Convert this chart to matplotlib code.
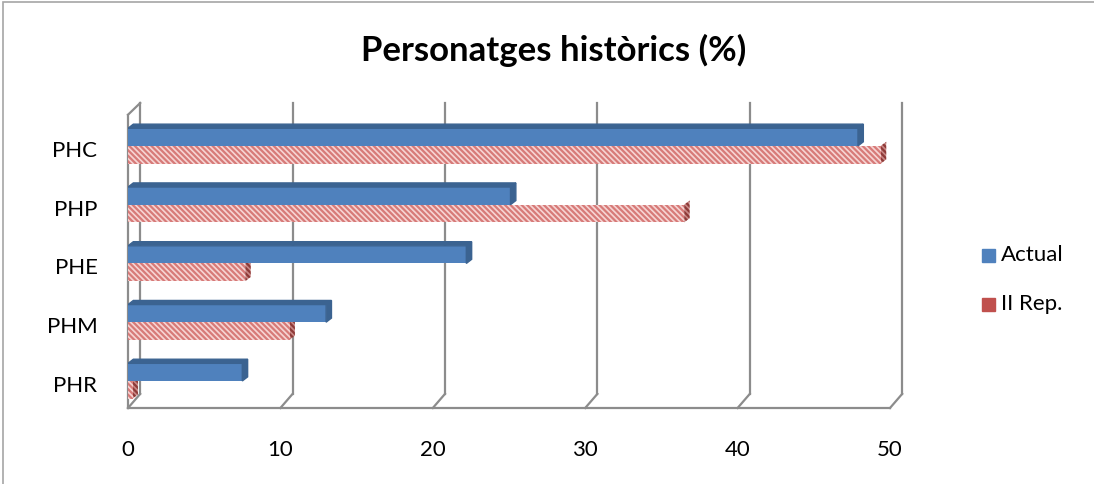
import matplotlib.pyplot as plt
from matplotlib.patches import Polygon, Rectangle
import numpy as np

plt.rcParams['font.family'] = ['Lato', 'DejaVu Sans']
plt.rcParams['hatch.linewidth'] = 1.6

categories = ['PHR', 'PHM', 'PHE', 'PHP', 'PHC']
actual = [7.5, 13.0, 22.2, 25.1, 47.9]
ii_rep = [0.3, 10.6, 7.7, 36.5, 49.4]
xticks = [0, 10, 20, 30, 40, 50]

blue = '#4F81BD'
blue_dark = '#3B6391'
red = '#C0504D'
pink_face = '#F6D4D3'
pink = '#D77A78'
grid_c = '#8C8C8C'

fig = plt.figure(figsize=(10.94, 4.84), dpi=100)
ax = fig.add_axes([128 / 1094, 1 - 408 / 484, 762 / 1094, 305 / 484])

y = np.arange(len(categories))
h = 0.3
dx, dy = 0.35, 0.07   # small depth offset for the 3d look
wall = 0.8            # back wall offset

# walls / gridlines
ytop = 4.73
for t in xticks:
    ax.plot([t + wall, t + wall], [-0.22, ytop], color=grid_c, lw=1.6, zorder=1, clip_on=False)
    ax.plot([t, t + wall], [-0.46, -0.22], color=grid_c, lw=1.6, zorder=1, clip_on=False)
ax.plot([0, 0], [-0.46, ytop - 0.2], color=grid_c, lw=1.6, zorder=1, clip_on=False)
ax.plot([0, wall], [ytop - 0.2, ytop], color=grid_c, lw=1.6, zorder=1, clip_on=False)
ax.plot([0, 50], [-0.46, -0.46], color=grid_c, lw=1.6, zorder=1, clip_on=False)

# bars
ax.barh(y + h / 2, actual, height=h, color=blue, zorder=3, label='Actual')
ax.barh(y - h / 2, ii_rep, height=h, facecolor=pink_face, edgecolor=pink,
        hatch='\\\\\\\\\\\\', lw=0, zorder=3, label='II Rep.')

for yi, v in zip(y, actual):
    top = yi + h
    ax.add_patch(Polygon([(0, top), (v, top), (v + dx, top + dy), (dx, top + dy)],
                         closed=True, color=blue_dark, zorder=3))
    ax.add_patch(Polygon([(v, top - h), (v, top), (v + dx, top + dy), (v + dx, top - h + dy)],
                         closed=True, color=blue_dark, zorder=3))
for yi, v in zip(y, ii_rep):
    bot = yi - h
    ax.add_patch(Polygon([(v, bot), (v, yi), (v + dx, yi + dy), (v + dx, bot + dy)],
                         closed=True, facecolor='#C98886', edgecolor='#8E3A38',
                         hatch='\\\\\\\\\\\\', lw=0, zorder=2))

ax.set_xlim(0, 50)
ax.set_ylim(-0.46, ytop)
ax.set_xticks(xticks)
ax.set_xticklabels([str(t) for t in xticks])
ax.set_yticks(y - 0.05)
ax.set_yticklabels(categories)
ax.tick_params(axis='both', length=0, labelsize=16, colors='black')
ax.tick_params(axis='x', pad=23)
ax.tick_params(axis='y', pad=22)
for s in ax.spines.values():
    s.set_visible(False)

fig.text(554 / 1094, 1 - 50 / 484, 'Personatges històrics (%)', ha='center', va='center',
         fontsize=25, fontweight='bold')

# legend
fig.patches.append(Rectangle((982 / 1094, 1 - 262 / 484), 13 / 1094, 13 / 484,
                             transform=fig.transFigure, color=blue, figure=fig))
fig.patches.append(Rectangle((982 / 1094, 1 - 311 / 484), 13 / 1094, 13 / 484,
                             transform=fig.transFigure, color=red, figure=fig))
fig.text(1001 / 1094, 1 - 255 / 484, 'Actual', va='center', fontsize=16)
fig.text(1001 / 1094, 1 - 304 / 484, 'II Rep.', va='center', fontsize=16)

# chart border
fig.patches.append(Rectangle((3 / 1094, -0.1), 1.2, 1 - 2 / 484 + 0.1, transform=fig.transFigure,
                             fill=False, edgecolor='#A6A6A6', lw=1.2, figure=fig))

plt.savefig('out.png', dpi=100)
